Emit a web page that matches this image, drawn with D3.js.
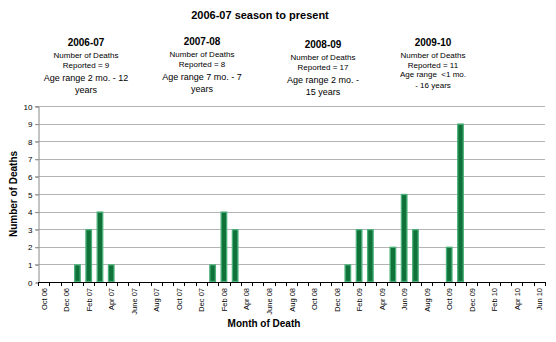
<!DOCTYPE html>
<html>
<head>
<meta charset="utf-8">
<script src="https://cdn.jsdelivr.net/npm/d3@7"></script>
<style>
  body { margin: 0; background: #fff; }
  svg { display: block; font-family: "Liberation Sans", Arial, sans-serif; }
</style>
</head>
<body>
<div id="chart"></div>
<script>
// month categories, Oct 06 .. Jun 10
var months = ["Oct 06","Nov 06","Dec 06","Jan 07","Feb 07","Mar 07","Apr 07","May 07","June 07","Jul 07","Aug 07","Sep 07",
    "Oct 07","Nov 07","Dec 07","Jan 08","Feb 08","Mar 08","Apr 08","May 08","June 08","Jul 08","Aug 08","Sep 08",
    "Oct 08","Nov 08","Dec 08","Jan 09","Feb 09","Mar 09","Apr 09","May 09","Jun 09","Jul 09","Aug 09","Sep 09",
    "Oct 09","Nov 09","Dec 09","Jan 10","Feb 10","Mar 10","Apr 10","May 10","Jun 10"];

var deaths = [0,0,0,1,3,4,1,0,0,0,0,0,
    0,0,0,1,4,3,0,0,0,0,0,0,
    0,0,0,1,3,3,0,2,5,3,0,0,
    2,9,0,0,0,0,0,0,0];

// only every other month gets a label
var shownLabels = ["Oct 06","Dec 06","Feb 07","Apr 07","June 07","Aug 07","Oct 07","Dec 07","Feb 08","Apr 08",
    "June 08","Aug 08","Oct 08","Dec 08","Feb 09","Apr 09","Jun 09","Aug 09","Oct 09","Dec 09","Feb 10","Apr 10","Jun 10"];

var yTicks = [0,1,2,3,4,5,6,7,8,9,10];

var seasons = ["2006-07","2007-08","2008-09","2009-10"];
var reported = [9, 8, 17, 11];
var ageLines = [["Age range 2 mo. - 12","years"], ["Age range 7 mo. - 7","years"],
    ["Age range 2 mo. -","15 years"], ["Age range  <1 mo.","- 16 years"]];

var W = 556, H = 342;
var m = {left: 38, right: 11, top: 106, bottom: 60};

var svg = d3.select("#chart").append("svg")
    .attr("width", W)
    .attr("height", H);

var x = d3.scaleBand()
    .domain(months)
    .range([m.left, W - m.right])
    .paddingInner(0.42)
    .paddingOuter(0.21);

var y = d3.scaleLinear()
    .domain([0, 10])
    .range([H - m.bottom, m.top]);

// grid lines
svg.append("g").selectAll("line")
    .data(yTicks.filter(function(d) { return d > 0; }))
    .enter().append("line")
    .attr("x1", m.left - 3)
    .attr("x2", W - m.right)
    .attr("y1", function(d) { return Math.round(y(d)) + 0.5; })
    .attr("y2", function(d) { return Math.round(y(d)) + 0.5; })
    .attr("stroke", "#b4b4b4")
    .attr("stroke-width", 1);

// y axis
var yAxis = d3.axisLeft(y).tickValues(yTicks).tickSize(3).tickPadding(3);
var gy = svg.append("g")
    .attr("transform", "translate(" + (m.left + 0.5) + ",0.5)")
    .call(yAxis);
gy.select(".domain").attr("stroke", "#888");
gy.selectAll(".tick line").attr("stroke", "#888");
gy.selectAll(".tick text").attr("font-size", "8px").attr("fill", "#000")
    .attr("font-family", "Liberation Sans, Arial, sans-serif");

// bars
svg.append("g").selectAll("rect")
    .data(months)
    .enter().append("rect")
    .filter(function(d, i) { return deaths[i] > 0; })
    .attr("x", function(d) { return x(d) + 0.5; })
    .attr("y", function(d) { return y(deaths[months.indexOf(d)]) + 0.5; })
    .attr("width", x.bandwidth() - 1)
    .attr("height", function(d) { return y(0) - y(deaths[months.indexOf(d)]) - 1; })
    .attr("fill", "#0e7239")
    .attr("stroke", "#4cb07a")
    .attr("stroke-width", 1.3);

// x axis with ticks at month boundaries
var step = x.step();
var x0 = m.left;
var gx = svg.append("g");
gx.append("line")
    .attr("x1", x0).attr("x2", W - m.right)
    .attr("y1", Math.round(y(0)) + 0.5).attr("y2", Math.round(y(0)) + 0.5)
    .attr("stroke", "#000");
gx.selectAll(".xt")
    .data(d3.range(months.length + 1))
    .enter().append("line")
    .attr("class", "xt")
    .attr("x1", function(i) { return Math.round(x0 + i * step) + 0.5; })
    .attr("x2", function(i) { return Math.round(x0 + i * step) + 0.5; })
    .attr("y1", Math.round(y(0)))
    .attr("y2", Math.round(y(0)) + 4)
    .attr("stroke", "#000");

gx.selectAll("text")
    .data(shownLabels)
    .enter().append("text")
    .attr("transform", function(d) {
        return "translate(" + (x(d) + x.bandwidth() / 2 + 3) + "," + (y(0) + 6) + ") rotate(-90)";
    })
    .attr("text-anchor", "end")
    .attr("font-size", "7.5px")
    .text(function(d) { return d; });

// axis titles
svg.append("text")
    .attr("x", 264).attr("y", 327)
    .attr("text-anchor", "middle")
    .attr("font-size", "10px").attr("font-weight", "bold")
    .text("Month of Death");

svg.append("text")
    .attr("transform", "translate(17,194) rotate(-90)")
    .attr("text-anchor", "middle")
    .attr("font-size", "10px").attr("font-weight", "bold")
    .text("Number of Deaths");

// chart title
svg.append("text")
    .attr("x", 260).attr("y", 19)
    .attr("text-anchor", "middle")
    .attr("font-size", "11px").attr("font-weight", "bold")
    .text("2006-07 season to present");

// season notes
var noteX = [86, 202, 323, 433];
var noteY = [46, 45, 48, 46];
seasons.forEach(function(s, i) {
    var g = svg.append("g")
        .attr("transform", "translate(" + noteX[i] + "," + noteY[i] + ")")
        .attr("text-anchor", "middle");
    g.append("text").attr("y", 0)
        .attr("font-size", "10px").attr("font-weight", "bold").text(s);
    g.append("text").attr("y", 12)
        .attr("font-size", "8px").text("Number of Deaths");
    g.append("text").attr("y", 22)
        .attr("font-size", "8px").text("Reported = " + reported[i]);
    var small = (i === 3);
    g.append("text").attr("y", small ? 31 : 35)
        .style("white-space", "pre")
        .attr("font-size", small ? "8px" : "9px").text(ageLines[i][0]);
    g.append("text").attr("y", small ? 42 : 47)
        .attr("font-size", small ? "8px" : "9px").text(ageLines[i][1]);
});
</script>
</body>
</html>
